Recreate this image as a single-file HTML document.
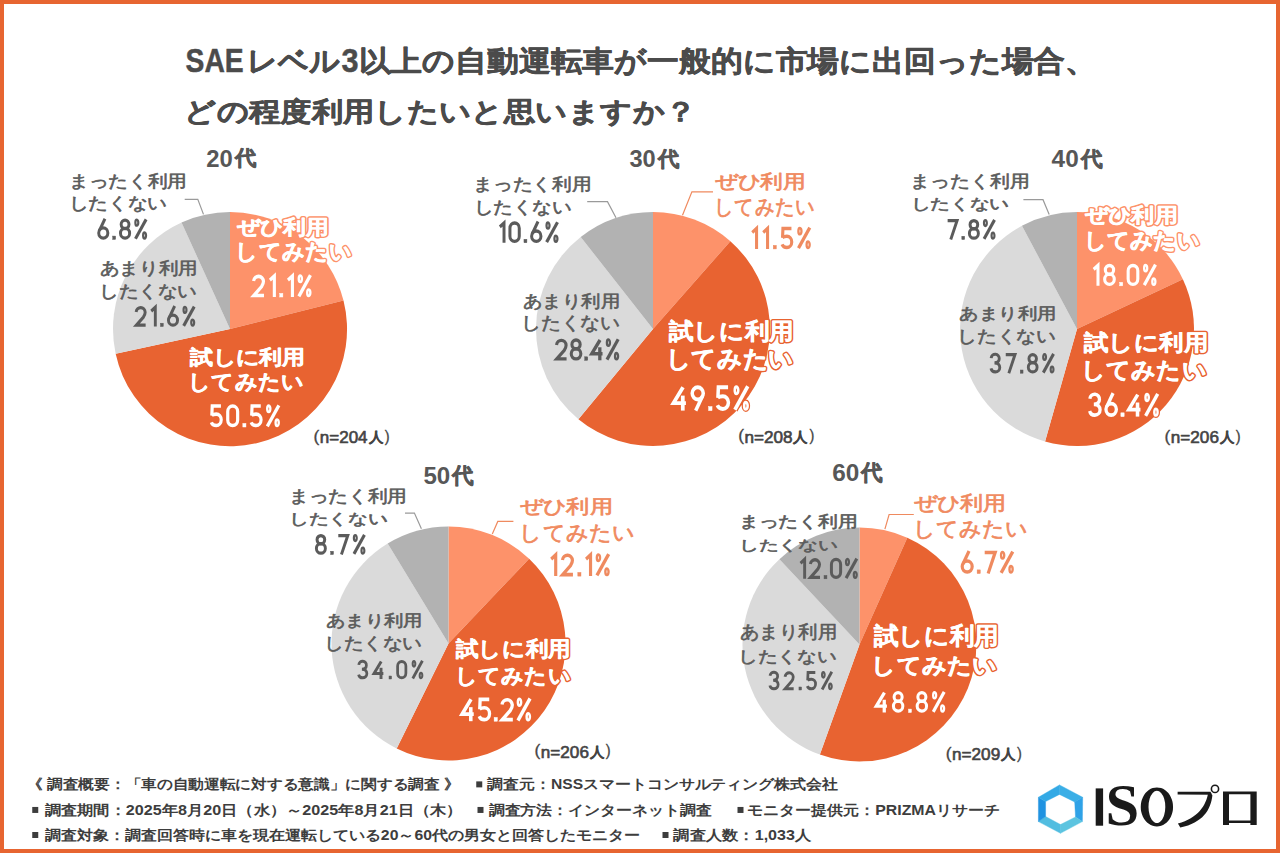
<!DOCTYPE html>
<html lang="ja"><head><meta charset="utf-8"><title>chart</title>
<style>html,body{margin:0;padding:0;background:#fff;}
svg{display:block;font-family:"Liberation Sans",sans-serif;}</style></head>
<body><svg width="1280" height="853" viewBox="0 0 1280 853">
<rect x="0" y="0" width="1280" height="853" fill="#E76531"/>
<rect x="4" y="4" width="1272" height="845" fill="#ffffff"/>
<path d="M230,329 L230.00,212.00 A117,117 0 0 1 343.50,300.62 Z" fill="#FD926A"/><path d="M230,329 L343.50,300.62 A117,117 0 1 1 115.66,353.80 Z" fill="#E86331"/><path d="M230,329 L115.66,353.80 A117,117 0 0 1 181.52,222.52 Z" fill="#DADADA"/><path d="M230,329 L181.52,222.52 A117,117 0 0 1 230.00,212.00 Z" fill="#B2B2B2"/><path d="M653,329 L653.00,212.00 A117,117 0 0 1 730.37,241.24 Z" fill="#FD926A"/><path d="M653,329 L730.37,241.24 A117,117 0 0 1 578.42,419.15 Z" fill="#E86331"/><path d="M653,329 L578.42,419.15 A117,117 0 0 1 580.71,237.00 Z" fill="#DADADA"/><path d="M653,329 L580.71,237.00 A117,117 0 0 1 653.00,212.00 Z" fill="#B2B2B2"/><path d="M1077,329 L1077.00,212.00 A117,117 0 0 1 1182.86,279.18 Z" fill="#FD926A"/><path d="M1077,329 L1182.86,279.18 A117,117 0 0 1 1045.06,441.56 Z" fill="#E86331"/><path d="M1077,329 L1045.06,441.56 A117,117 0 0 1 1021.93,225.77 Z" fill="#DADADA"/><path d="M1077,329 L1021.93,225.77 A117,117 0 0 1 1077.00,212.00 Z" fill="#B2B2B2"/><path d="M448.5,643.5 L448.50,526.50 A117,117 0 0 1 529.13,558.72 Z" fill="#FD926A"/><path d="M448.5,643.5 L529.13,558.72 A117,117 0 0 1 396.70,748.41 Z" fill="#E86331"/><path d="M448.5,643.5 L396.70,748.41 A117,117 0 0 1 387.68,543.55 Z" fill="#DADADA"/><path d="M448.5,643.5 L387.68,543.55 A117,117 0 0 1 448.50,526.50 Z" fill="#B2B2B2"/><path d="M859.5,644.5 L859.50,527.50 A117,117 0 0 1 907.31,537.72 Z" fill="#FD926A"/><path d="M859.5,644.5 L907.31,537.72 A117,117 0 0 1 819.87,754.58 Z" fill="#E86331"/><path d="M859.5,644.5 L819.87,754.58 A117,117 0 0 1 779.41,559.21 Z" fill="#DADADA"/><path d="M859.5,644.5 L779.41,559.21 A117,117 0 0 1 859.50,527.50 Z" fill="#B2B2B2"/><path d="M184.7,199.4 L197.8,199.4 L203.5,214.4" fill="none" stroke="#9a9a9a" stroke-width="1.2"/><path d="M587.2,201.6 L607.5,201.6 L616.0,217.7" fill="none" stroke="#9a9a9a" stroke-width="1.2"/><path d="M713.0,191.9 L691.9,191.9 L682.5,215.3" fill="none" stroke="#EF8A5F" stroke-width="1.2"/><path d="M1023.4,199.7 L1043.0,199.7 L1049.2,214.5" fill="none" stroke="#9a9a9a" stroke-width="1.2"/><path d="M405.0,513.1 L414.4,513.1 L421.4,528.8" fill="none" stroke="#9a9a9a" stroke-width="1.2"/><path d="M513.4,521.4 L497.8,521.4 L492.3,533.9" fill="none" stroke="#EF8A5F" stroke-width="1.2"/><path d="M913.8,514.5 L889.1,514.5 L884.9,529.2" fill="none" stroke="#EF8A5F" stroke-width="1.2"/><text x="185.55" y="72.26" font-size="33.80" font-weight="700" fill="#4b4b4b" textLength="58.07" lengthAdjust="spacingAndGlyphs" stroke="#4b4b4b" stroke-width="0.5" stroke-linejoin="round" paint-order="stroke">SAE</text><text x="247.24" y="70.84" font-size="29.13" font-weight="700" fill="#4b4b4b" textLength="93.27" lengthAdjust="spacingAndGlyphs" stroke="#4b4b4b" stroke-width="0.5" stroke-linejoin="round" paint-order="stroke">レベル</text><text x="341.59" y="72.26" font-size="33.80" font-weight="700" fill="#4b4b4b" textLength="17.02" lengthAdjust="spacingAndGlyphs" stroke="#4b4b4b" stroke-width="0.5" stroke-linejoin="round" paint-order="stroke">3</text><text x="358.56" y="70.84" font-size="29.13" font-weight="700" fill="#4b4b4b" textLength="738.48" lengthAdjust="spacingAndGlyphs" stroke="#4b4b4b" stroke-width="0.5" stroke-linejoin="round" paint-order="stroke">以上の自動運転車が一般的に市場に出回った場合、</text><text x="184.07" y="120.58" font-size="27.10" font-weight="700" fill="#4b4b4b" textLength="512.23" lengthAdjust="spacingAndGlyphs" stroke="#4b4b4b" stroke-width="0.5" stroke-linejoin="round" paint-order="stroke">どの程度利用したいと思いますか？</text><text x="206.18" y="166.56" font-size="23.94" font-weight="700" fill="#575757" textLength="26.53" lengthAdjust="spacingAndGlyphs">20</text><text x="234.64" y="165.43" font-size="21.15" font-weight="700" fill="#575757" textLength="21.39" lengthAdjust="spacingAndGlyphs" stroke="#575757" stroke-width="0.5" stroke-linejoin="round" paint-order="stroke">代</text><text x="68.80" y="187.35" font-size="16.58" font-weight="400" fill="#5b5b5b" textLength="118.34" lengthAdjust="spacingAndGlyphs" stroke="#5b5b5b" stroke-width="0.6" stroke-linejoin="round" paint-order="stroke">まったく利用</text><text x="68.76" y="209.45" font-size="16.96" font-weight="400" fill="#5b5b5b" textLength="98.18" lengthAdjust="spacingAndGlyphs" stroke="#5b5b5b" stroke-width="0.6" stroke-linejoin="round" paint-order="stroke">したくない</text><g fill="none" stroke="#5b5b5b" stroke-linejoin="miter" stroke-miterlimit="3" stroke-linecap="butt"><g transform="translate(97.50,218.75) scale(0.1865,0.2065)"><path d="M6.5,69 A24.5,24.5 0 0 1 55.5,69 A24.5,24.5 0 0 1 6.5,69 Z" stroke-width="15.92"/><path d="M10.5,57 L40,0" stroke-width="15.92"/></g><g transform="translate(112.73,218.75) scale(0.1807,0.2065)"><rect x="0" y="84" width="16" height="16" fill="#5b5b5b" stroke-width="2.42"/></g><g transform="translate(119.28,218.75) scale(0.1865,0.2065)"><path d="M10,27 A21,20.5 0 0 1 52,27 A21,20.5 0 0 1 10,27 Z" stroke-width="15.92"/><path d="M6.5,70 A24.5,23.5 0 0 1 55.5,70 A24.5,23.5 0 0 1 6.5,70 Z" stroke-width="15.92"/></g><g transform="translate(134.51,218.75) scale(0.1936,0.2065)"><path d="M60,3 L5,97" stroke-width="15.92"/><path d="M4.5,19 A7.5,14.5 0 0 1 19.5,19 A7.5,14.5 0 0 1 4.5,19 Z" stroke-width="11.42"/><path d="M44.5,81 A7.5,14.5 0 0 1 59.5,81 A7.5,14.5 0 0 1 44.5,81 Z" stroke-width="11.42"/></g></g><text x="237.20" y="233.92" font-size="19.90" font-weight="700" fill="#FD926A" textLength="91.36" lengthAdjust="spacingAndGlyphs" stroke="#FD926A" stroke-width="3.5" stroke-linejoin="round">ぜひ利用</text><text x="237.20" y="233.92" font-size="19.90" font-weight="700" fill="#ffffff" textLength="91.36" lengthAdjust="spacingAndGlyphs" stroke="#ffffff" stroke-width="0.5" stroke-linejoin="round">ぜひ利用</text><text x="235.44" y="258.84" font-size="21.65" font-weight="700" fill="#FD926A" textLength="116.41" lengthAdjust="spacingAndGlyphs" stroke="#FD926A" stroke-width="3.5" stroke-linejoin="round">してみたい</text><text x="235.44" y="258.84" font-size="21.65" font-weight="700" fill="#ffffff" textLength="116.41" lengthAdjust="spacingAndGlyphs" stroke="#ffffff" stroke-width="0.5" stroke-linejoin="round">してみたい</text><g fill="none" stroke="#FD926A" stroke-linejoin="miter" stroke-miterlimit="3" stroke-linecap="butt"><g transform="translate(252.20,274.50) scale(0.2032,0.2250)"><path d="M6.8,29 A24.5,24 0 0 1 55.5,30.5 C55.5,40 51.5,47 46,54 L8,93.5 L58,93.5" stroke-width="26.83"/></g><g transform="translate(268.89,274.50) scale(0.1985,0.2250)"><path d="M5,25 L27.5,6.5 L27.5,100" stroke-width="26.83"/></g><g transform="translate(279.73,274.50) scale(0.1969,0.2250)"><rect x="0" y="84" width="16" height="16" fill="#FD926A" stroke-width="13.33"/></g><g transform="translate(286.96,274.50) scale(0.1985,0.2250)"><path d="M5,25 L27.5,6.5 L27.5,100" stroke-width="26.83"/></g><g transform="translate(297.80,274.50) scale(0.2109,0.2250)"><path d="M60,3 L5,97" stroke-width="26.83"/><path d="M4.5,19 A7.5,14.5 0 0 1 19.5,19 A7.5,14.5 0 0 1 4.5,19 Z" stroke-width="22.33"/><path d="M44.5,81 A7.5,14.5 0 0 1 59.5,81 A7.5,14.5 0 0 1 44.5,81 Z" stroke-width="22.33"/></g></g><g fill="none" stroke="#ffffff" stroke-linejoin="miter" stroke-miterlimit="3" stroke-linecap="butt"><g transform="translate(252.20,274.50) scale(0.2032,0.2250)"><path d="M6.8,29 A24.5,24 0 0 1 55.5,30.5 C55.5,40 51.5,47 46,54 L8,93.5 L58,93.5" stroke-width="15.72"/></g><g transform="translate(268.89,274.50) scale(0.1985,0.2250)"><path d="M5,25 L27.5,6.5 L27.5,100" stroke-width="15.72"/></g><g transform="translate(279.73,274.50) scale(0.1969,0.2250)"><rect x="0" y="84" width="16" height="16" fill="#ffffff" stroke-width="2.22"/></g><g transform="translate(286.96,274.50) scale(0.1985,0.2250)"><path d="M5,25 L27.5,6.5 L27.5,100" stroke-width="15.72"/></g><g transform="translate(297.80,274.50) scale(0.2109,0.2250)"><path d="M60,3 L5,97" stroke-width="15.72"/><path d="M4.5,19 A7.5,14.5 0 0 1 19.5,19 A7.5,14.5 0 0 1 4.5,19 Z" stroke-width="11.22"/><path d="M44.5,81 A7.5,14.5 0 0 1 59.5,81 A7.5,14.5 0 0 1 44.5,81 Z" stroke-width="11.22"/></g></g><text x="99.94" y="274.27" font-size="17.40" font-weight="400" fill="#5b5b5b" textLength="97.68" lengthAdjust="spacingAndGlyphs" stroke="#5b5b5b" stroke-width="0.6" stroke-linejoin="round" paint-order="stroke">あまり利用</text><text x="98.98" y="296.51" font-size="17.17" font-weight="400" fill="#5b5b5b" textLength="97.86" lengthAdjust="spacingAndGlyphs" stroke="#5b5b5b" stroke-width="0.6" stroke-linejoin="round" paint-order="stroke">したくない</text><g fill="none" stroke="#5b5b5b" stroke-linejoin="miter" stroke-miterlimit="3" stroke-linecap="butt"><g transform="translate(134.90,306.00) scale(0.1852,0.2050)"><path d="M6.8,29 A24.5,24 0 0 1 55.5,30.5 C55.5,40 51.5,47 46,54 L8,93.5 L58,93.5" stroke-width="15.94"/></g><g transform="translate(150.34,306.00) scale(0.1809,0.2050)"><path d="M5,25 L27.5,6.5 L27.5,100" stroke-width="15.94"/></g><g transform="translate(160.44,306.00) scale(0.1794,0.2050)"><rect x="0" y="84" width="16" height="16" fill="#5b5b5b" stroke-width="2.44"/></g><g transform="translate(167.26,306.00) scale(0.1852,0.2050)"><path d="M6.5,69 A24.5,24.5 0 0 1 55.5,69 A24.5,24.5 0 0 1 6.5,69 Z" stroke-width="15.94"/><path d="M10.5,57 L40,0" stroke-width="15.94"/></g><g transform="translate(182.70,306.00) scale(0.1922,0.2050)"><path d="M60,3 L5,97" stroke-width="15.94"/><path d="M4.5,19 A7.5,14.5 0 0 1 19.5,19 A7.5,14.5 0 0 1 4.5,19 Z" stroke-width="11.44"/><path d="M44.5,81 A7.5,14.5 0 0 1 59.5,81 A7.5,14.5 0 0 1 44.5,81 Z" stroke-width="11.44"/></g></g><text x="190.30" y="363.54" font-size="20.40" font-weight="700" fill="#E86331" textLength="114.88" lengthAdjust="spacingAndGlyphs" stroke="#E86331" stroke-width="3.5" stroke-linejoin="round">試しに利用</text><text x="190.30" y="363.54" font-size="20.40" font-weight="700" fill="#ffffff" textLength="114.88" lengthAdjust="spacingAndGlyphs" stroke="#ffffff" stroke-width="0.5" stroke-linejoin="round">試しに利用</text><text x="188.36" y="389.28" font-size="20.77" font-weight="700" fill="#E86331" textLength="115.67" lengthAdjust="spacingAndGlyphs" stroke="#E86331" stroke-width="3.5" stroke-linejoin="round">してみたい</text><text x="188.36" y="389.28" font-size="20.77" font-weight="700" fill="#ffffff" textLength="115.67" lengthAdjust="spacingAndGlyphs" stroke="#ffffff" stroke-width="0.5" stroke-linejoin="round">してみたい</text><g fill="none" stroke="#E86331" stroke-linejoin="miter" stroke-miterlimit="3" stroke-linecap="butt"><g transform="translate(210.00,404.60) scale(0.2023,0.2240)"><path d="M54,6.5 L11,6.5 L9,49" stroke-width="26.89"/><path d="M8.5,48 C13,44.5 21,42.5 31,42.5 A24.5,25.5 0 0 1 55.5,68 A24.5,25.5 0 0 1 31,93.5 C19,93.5 10,87.5 6.5,79" stroke-width="26.89"/></g><g transform="translate(226.42,404.60) scale(0.2023,0.2240)"><path d="M6.5,31 A24.5,24.5 0 0 1 55.5,31 L55.5,69 A24.5,24.5 0 0 1 6.5,69 Z" stroke-width="26.89"/></g><g transform="translate(242.83,404.60) scale(0.1960,0.2240)"><rect x="0" y="84" width="16" height="16" fill="#E86331" stroke-width="13.39"/></g><g transform="translate(249.84,404.60) scale(0.2023,0.2240)"><path d="M54,6.5 L11,6.5 L9,49" stroke-width="26.89"/><path d="M8.5,48 C13,44.5 21,42.5 31,42.5 A24.5,25.5 0 0 1 55.5,68 A24.5,25.5 0 0 1 31,93.5 C19,93.5 10,87.5 6.5,79" stroke-width="26.89"/></g><g transform="translate(266.26,404.60) scale(0.2100,0.2240)"><path d="M60,3 L5,97" stroke-width="26.89"/><path d="M4.5,19 A7.5,14.5 0 0 1 19.5,19 A7.5,14.5 0 0 1 4.5,19 Z" stroke-width="22.39"/><path d="M44.5,81 A7.5,14.5 0 0 1 59.5,81 A7.5,14.5 0 0 1 44.5,81 Z" stroke-width="22.39"/></g></g><g fill="none" stroke="#ffffff" stroke-linejoin="miter" stroke-miterlimit="3" stroke-linecap="butt"><g transform="translate(210.00,404.60) scale(0.2023,0.2240)"><path d="M54,6.5 L11,6.5 L9,49" stroke-width="15.73"/><path d="M8.5,48 C13,44.5 21,42.5 31,42.5 A24.5,25.5 0 0 1 55.5,68 A24.5,25.5 0 0 1 31,93.5 C19,93.5 10,87.5 6.5,79" stroke-width="15.73"/></g><g transform="translate(226.42,404.60) scale(0.2023,0.2240)"><path d="M6.5,31 A24.5,24.5 0 0 1 55.5,31 L55.5,69 A24.5,24.5 0 0 1 6.5,69 Z" stroke-width="15.73"/></g><g transform="translate(242.83,404.60) scale(0.1960,0.2240)"><rect x="0" y="84" width="16" height="16" fill="#ffffff" stroke-width="2.23"/></g><g transform="translate(249.84,404.60) scale(0.2023,0.2240)"><path d="M54,6.5 L11,6.5 L9,49" stroke-width="15.73"/><path d="M8.5,48 C13,44.5 21,42.5 31,42.5 A24.5,25.5 0 0 1 55.5,68 A24.5,25.5 0 0 1 31,93.5 C19,93.5 10,87.5 6.5,79" stroke-width="15.73"/></g><g transform="translate(266.26,404.60) scale(0.2100,0.2240)"><path d="M60,3 L5,97" stroke-width="15.73"/><path d="M4.5,19 A7.5,14.5 0 0 1 19.5,19 A7.5,14.5 0 0 1 4.5,19 Z" stroke-width="11.23"/><path d="M44.5,81 A7.5,14.5 0 0 1 59.5,81 A7.5,14.5 0 0 1 44.5,81 Z" stroke-width="11.23"/></g></g><text x="313.46" y="441.67" font-size="15.85" font-weight="400" fill="#444444" textLength="5.77" lengthAdjust="spacingAndGlyphs" stroke="#444444" stroke-width="0.3" stroke-linejoin="round" paint-order="stroke">(</text><text x="319.81" y="443.44" font-size="16.06" font-weight="400" fill="#444444" textLength="47.78" lengthAdjust="spacingAndGlyphs" stroke="#444444" stroke-width="0.6" stroke-linejoin="round" paint-order="stroke">n=204</text><text x="368.64" y="442.28" font-size="13.67" font-weight="700" fill="#444444" textLength="14.50" lengthAdjust="spacingAndGlyphs" stroke="#444444" stroke-width="0.3" stroke-linejoin="round" paint-order="stroke">人</text><text x="384.85" y="441.67" font-size="15.85" font-weight="400" fill="#444444" textLength="4.87" lengthAdjust="spacingAndGlyphs" stroke="#444444" stroke-width="0.3" stroke-linejoin="round" paint-order="stroke">)</text><text x="629.43" y="167.05" font-size="24.65" font-weight="700" fill="#575757" textLength="26.27" lengthAdjust="spacingAndGlyphs">30</text><text x="657.64" y="165.68" font-size="21.46" font-weight="700" fill="#575757" textLength="21.39" lengthAdjust="spacingAndGlyphs" stroke="#575757" stroke-width="0.5" stroke-linejoin="round" paint-order="stroke">代</text><text x="473.30" y="190.01" font-size="16.79" font-weight="400" fill="#5b5b5b" textLength="118.34" lengthAdjust="spacingAndGlyphs" stroke="#5b5b5b" stroke-width="0.6" stroke-linejoin="round" paint-order="stroke">まったく利用</text><text x="473.58" y="212.97" font-size="16.85" font-weight="400" fill="#5b5b5b" textLength="97.76" lengthAdjust="spacingAndGlyphs" stroke="#5b5b5b" stroke-width="0.6" stroke-linejoin="round" paint-order="stroke">したくない</text><g fill="none" stroke="#5b5b5b" stroke-linejoin="miter" stroke-miterlimit="3" stroke-linecap="butt"><g transform="translate(498.90,221.60) scale(0.1862,0.2110)"><path d="M5,25 L27.5,6.5 L27.5,100" stroke-width="15.87"/></g><g transform="translate(508.69,221.60) scale(0.1906,0.2110)"><path d="M6.5,31 A24.5,24.5 0 0 1 55.5,31 L55.5,69 A24.5,24.5 0 0 1 6.5,69 Z" stroke-width="15.87"/></g><g transform="translate(523.96,221.60) scale(0.1846,0.2110)"><rect x="0" y="84" width="16" height="16" fill="#5b5b5b" stroke-width="2.37"/></g><g transform="translate(530.37,221.60) scale(0.1906,0.2110)"><path d="M6.5,69 A24.5,24.5 0 0 1 55.5,69 A24.5,24.5 0 0 1 6.5,69 Z" stroke-width="15.87"/><path d="M10.5,57 L40,0" stroke-width="15.87"/></g><g transform="translate(545.64,221.60) scale(0.1978,0.2110)"><path d="M60,3 L5,97" stroke-width="15.87"/><path d="M4.5,19 A7.5,14.5 0 0 1 19.5,19 A7.5,14.5 0 0 1 4.5,19 Z" stroke-width="11.37"/><path d="M44.5,81 A7.5,14.5 0 0 1 59.5,81 A7.5,14.5 0 0 1 44.5,81 Z" stroke-width="11.37"/></g></g><text x="714.85" y="188.27" font-size="19.48" font-weight="400" fill="#F08A5F" textLength="91.24" lengthAdjust="spacingAndGlyphs" stroke="#F08A5F" stroke-width="0.7" stroke-linejoin="round" paint-order="stroke">ぜひ利用</text><text x="714.01" y="213.89" font-size="21.48" font-weight="400" fill="#F08A5F" textLength="101.68" lengthAdjust="spacingAndGlyphs" stroke="#F08A5F" stroke-width="0.7" stroke-linejoin="round" paint-order="stroke">してみたい</text><g fill="none" stroke="#EF8A5F" stroke-linejoin="miter" stroke-miterlimit="3" stroke-linecap="butt"><g transform="translate(751.25,227.00) scale(0.1932,0.2190)"><path d="M5,25 L27.5,6.5 L27.5,100" stroke-width="15.78"/></g><g transform="translate(762.25,227.00) scale(0.1932,0.2190)"><path d="M5,25 L27.5,6.5 L27.5,100" stroke-width="15.78"/></g><g transform="translate(773.26,227.00) scale(0.1916,0.2190)"><rect x="0" y="84" width="16" height="16" fill="#EF8A5F" stroke-width="2.28"/></g><g transform="translate(780.76,227.00) scale(0.1978,0.2190)"><path d="M54,6.5 L11,6.5 L9,49" stroke-width="15.78"/><path d="M8.5,48 C13,44.5 21,42.5 31,42.5 A24.5,25.5 0 0 1 55.5,68 A24.5,25.5 0 0 1 31,93.5 C19,93.5 10,87.5 6.5,79" stroke-width="15.78"/></g><g transform="translate(797.46,227.00) scale(0.2053,0.2190)"><path d="M60,3 L5,97" stroke-width="15.78"/><path d="M4.5,19 A7.5,14.5 0 0 1 19.5,19 A7.5,14.5 0 0 1 4.5,19 Z" stroke-width="11.28"/><path d="M44.5,81 A7.5,14.5 0 0 1 59.5,81 A7.5,14.5 0 0 1 44.5,81 Z" stroke-width="11.28"/></g></g><text x="522.95" y="306.84" font-size="17.00" font-weight="400" fill="#5b5b5b" textLength="97.06" lengthAdjust="spacingAndGlyphs" stroke="#5b5b5b" stroke-width="0.6" stroke-linejoin="round" paint-order="stroke">あまり利用</text><text x="521.04" y="329.47" font-size="18.48" font-weight="400" fill="#5b5b5b" textLength="98.82" lengthAdjust="spacingAndGlyphs" stroke="#5b5b5b" stroke-width="0.6" stroke-linejoin="round" paint-order="stroke">したくない</text><g fill="none" stroke="#5b5b5b" stroke-linejoin="miter" stroke-miterlimit="3" stroke-linecap="butt"><g transform="translate(555.20,338.60) scale(0.1960,0.2170)"><path d="M6.8,29 A24.5,24 0 0 1 55.5,30.5 C55.5,40 51.5,47 46,54 L8,93.5 L58,93.5" stroke-width="15.80"/></g><g transform="translate(569.96,338.60) scale(0.1960,0.2170)"><path d="M10,27 A21,20.5 0 0 1 52,27 A21,20.5 0 0 1 10,27 Z" stroke-width="15.80"/><path d="M6.5,70 A24.5,23.5 0 0 1 55.5,70 A24.5,23.5 0 0 1 6.5,70 Z" stroke-width="15.80"/></g><g transform="translate(584.71,338.60) scale(0.1899,0.2170)"><rect x="0" y="84" width="16" height="16" fill="#5b5b5b" stroke-width="2.30"/></g><g transform="translate(590.36,338.60) scale(0.2100,0.2170)"><path d="M46,6.5 L6.5,70 L58,70" stroke-width="15.80"/><path d="M45,40 L45,100" stroke-width="15.80"/></g><g transform="translate(605.98,338.60) scale(0.2034,0.2170)"><path d="M60,3 L5,97" stroke-width="15.80"/><path d="M4.5,19 A7.5,14.5 0 0 1 19.5,19 A7.5,14.5 0 0 1 4.5,19 Z" stroke-width="11.30"/><path d="M44.5,81 A7.5,14.5 0 0 1 59.5,81 A7.5,14.5 0 0 1 44.5,81 Z" stroke-width="11.30"/></g></g><text x="668.90" y="339.17" font-size="22.67" font-weight="700" fill="#E86331" textLength="125.08" lengthAdjust="spacingAndGlyphs" stroke="#E86331" stroke-width="3.5" stroke-linejoin="round">試しに利用</text><text x="668.90" y="339.17" font-size="22.67" font-weight="700" fill="#ffffff" textLength="125.08" lengthAdjust="spacingAndGlyphs" stroke="#ffffff" stroke-width="0.5" stroke-linejoin="round">試しに利用</text><text x="665.89" y="366.85" font-size="24.07" font-weight="700" fill="#E86331" textLength="127.87" lengthAdjust="spacingAndGlyphs" stroke="#E86331" stroke-width="3.5" stroke-linejoin="round">してみたい</text><text x="665.89" y="366.85" font-size="24.07" font-weight="700" fill="#ffffff" textLength="127.87" lengthAdjust="spacingAndGlyphs" stroke="#ffffff" stroke-width="0.5" stroke-linejoin="round">してみたい</text><g fill="none" stroke="#E86331" stroke-linejoin="miter" stroke-miterlimit="3" stroke-linecap="butt"><g transform="translate(671.90,385.60) scale(0.2419,0.2500)"><path d="M46,6.5 L6.5,70 L58,70" stroke-width="25.50"/><path d="M45,40 L45,100" stroke-width="25.50"/></g><g transform="translate(690.73,385.60) scale(0.2258,0.2500)"><path d="M6.5,31 A24.5,24.5 0 0 1 55.5,31 A24.5,24.5 0 0 1 6.5,31 Z" stroke-width="25.50"/><path d="M51.5,43 L22,100" stroke-width="25.50"/></g><g transform="translate(708.55,385.60) scale(0.2188,0.2500)"><rect x="0" y="84" width="16" height="16" fill="#E86331" stroke-width="12.00"/></g><g transform="translate(715.88,385.60) scale(0.2258,0.2500)"><path d="M54,6.5 L11,6.5 L9,49" stroke-width="25.50"/><path d="M8.5,48 C13,44.5 21,42.5 31,42.5 A24.5,25.5 0 0 1 55.5,68 A24.5,25.5 0 0 1 31,93.5 C19,93.5 10,87.5 6.5,79" stroke-width="25.50"/></g><g transform="translate(733.70,385.60) scale(0.2344,0.2500)"><path d="M60,3 L5,97" stroke-width="25.50"/><path d="M4.5,19 A7.5,14.5 0 0 1 19.5,19 A7.5,14.5 0 0 1 4.5,19 Z" stroke-width="21.00"/><path d="M44.5,81 A7.5,14.5 0 0 1 59.5,81 A7.5,14.5 0 0 1 44.5,81 Z" stroke-width="21.00"/></g></g><g fill="none" stroke="#ffffff" stroke-linejoin="miter" stroke-miterlimit="3" stroke-linecap="butt"><g transform="translate(671.90,385.60) scale(0.2419,0.2500)"><path d="M46,6.5 L6.5,70 L58,70" stroke-width="15.50"/><path d="M45,40 L45,100" stroke-width="15.50"/></g><g transform="translate(690.73,385.60) scale(0.2258,0.2500)"><path d="M6.5,31 A24.5,24.5 0 0 1 55.5,31 A24.5,24.5 0 0 1 6.5,31 Z" stroke-width="15.50"/><path d="M51.5,43 L22,100" stroke-width="15.50"/></g><g transform="translate(708.55,385.60) scale(0.2188,0.2500)"><rect x="0" y="84" width="16" height="16" fill="#ffffff" stroke-width="2.00"/></g><g transform="translate(715.88,385.60) scale(0.2258,0.2500)"><path d="M54,6.5 L11,6.5 L9,49" stroke-width="15.50"/><path d="M8.5,48 C13,44.5 21,42.5 31,42.5 A24.5,25.5 0 0 1 55.5,68 A24.5,25.5 0 0 1 31,93.5 C19,93.5 10,87.5 6.5,79" stroke-width="15.50"/></g><g transform="translate(733.70,385.60) scale(0.2344,0.2500)"><path d="M60,3 L5,97" stroke-width="15.50"/><path d="M4.5,19 A7.5,14.5 0 0 1 19.5,19 A7.5,14.5 0 0 1 4.5,19 Z" stroke-width="11.00"/><path d="M44.5,81 A7.5,14.5 0 0 1 59.5,81 A7.5,14.5 0 0 1 44.5,81 Z" stroke-width="11.00"/></g></g><text x="738.16" y="441.47" font-size="15.85" font-weight="400" fill="#444444" textLength="5.77" lengthAdjust="spacingAndGlyphs" stroke="#444444" stroke-width="0.3" stroke-linejoin="round" paint-order="stroke">(</text><text x="744.50" y="443.24" font-size="16.06" font-weight="400" fill="#444444" textLength="48.13" lengthAdjust="spacingAndGlyphs" stroke="#444444" stroke-width="0.6" stroke-linejoin="round" paint-order="stroke">n=208</text><text x="793.35" y="442.08" font-size="13.67" font-weight="700" fill="#444444" textLength="14.50" lengthAdjust="spacingAndGlyphs" stroke="#444444" stroke-width="0.3" stroke-linejoin="round" paint-order="stroke">人</text><text x="809.55" y="441.47" font-size="15.85" font-weight="400" fill="#444444" textLength="4.87" lengthAdjust="spacingAndGlyphs" stroke="#444444" stroke-width="0.3" stroke-linejoin="round" paint-order="stroke">)</text><text x="1051.61" y="166.56" font-size="23.94" font-weight="700" fill="#575757" textLength="27.12" lengthAdjust="spacingAndGlyphs">40</text><text x="1080.65" y="165.68" font-size="21.46" font-weight="700" fill="#575757" textLength="21.68" lengthAdjust="spacingAndGlyphs" stroke="#575757" stroke-width="0.5" stroke-linejoin="round" paint-order="stroke">代</text><text x="910.28" y="186.82" font-size="16.73" font-weight="400" fill="#5b5b5b" textLength="119.18" lengthAdjust="spacingAndGlyphs" stroke="#5b5b5b" stroke-width="0.6" stroke-linejoin="round" paint-order="stroke">まったく利用</text><text x="910.55" y="209.44" font-size="15.33" font-weight="400" fill="#5b5b5b" textLength="98.61" lengthAdjust="spacingAndGlyphs" stroke="#5b5b5b" stroke-width="0.6" stroke-linejoin="round" paint-order="stroke">したくない</text><g fill="none" stroke="#5b5b5b" stroke-linejoin="miter" stroke-miterlimit="3" stroke-linecap="butt"><g transform="translate(946.90,219.20) scale(0.1834,0.2030)"><path d="M4,6.5 L55.5,6.5 L21,100" stroke-width="15.96"/></g><g transform="translate(961.82,219.20) scale(0.1776,0.2030)"><rect x="0" y="84" width="16" height="16" fill="#5b5b5b" stroke-width="2.46"/></g><g transform="translate(968.20,219.20) scale(0.1834,0.2030)"><path d="M10,27 A21,20.5 0 0 1 52,27 A21,20.5 0 0 1 10,27 Z" stroke-width="15.96"/><path d="M6.5,70 A24.5,23.5 0 0 1 55.5,70 A24.5,23.5 0 0 1 6.5,70 Z" stroke-width="15.96"/></g><g transform="translate(983.12,219.20) scale(0.1903,0.2030)"><path d="M60,3 L5,97" stroke-width="15.96"/><path d="M4.5,19 A7.5,14.5 0 0 1 19.5,19 A7.5,14.5 0 0 1 4.5,19 Z" stroke-width="11.46"/><path d="M44.5,81 A7.5,14.5 0 0 1 59.5,81 A7.5,14.5 0 0 1 44.5,81 Z" stroke-width="11.46"/></g></g><text x="1085.40" y="221.88" font-size="20.10" font-weight="700" fill="#FD926A" textLength="92.18" lengthAdjust="spacingAndGlyphs" stroke="#FD926A" stroke-width="3.5" stroke-linejoin="round">ぜひ利用</text><text x="1085.40" y="221.88" font-size="20.10" font-weight="700" fill="#ffffff" textLength="92.18" lengthAdjust="spacingAndGlyphs" stroke="#ffffff" stroke-width="0.5" stroke-linejoin="round">ぜひ利用</text><text x="1083.53" y="247.78" font-size="21.98" font-weight="700" fill="#FD926A" textLength="116.62" lengthAdjust="spacingAndGlyphs" stroke="#FD926A" stroke-width="3.5" stroke-linejoin="round">してみたい</text><text x="1083.53" y="247.78" font-size="21.98" font-weight="700" fill="#ffffff" textLength="116.62" lengthAdjust="spacingAndGlyphs" stroke="#ffffff" stroke-width="0.5" stroke-linejoin="round">してみたい</text><g fill="none" stroke="#FD926A" stroke-linejoin="miter" stroke-miterlimit="3" stroke-linecap="butt"><g transform="translate(1092.70,264.00) scale(0.1924,0.2180)"><path d="M5,25 L27.5,6.5 L27.5,100" stroke-width="27.26"/></g><g transform="translate(1103.37,264.00) scale(0.1969,0.2180)"><path d="M10,27 A21,20.5 0 0 1 52,27 A21,20.5 0 0 1 10,27 Z" stroke-width="27.26"/><path d="M6.5,70 A24.5,23.5 0 0 1 55.5,70 A24.5,23.5 0 0 1 6.5,70 Z" stroke-width="27.26"/></g><g transform="translate(1119.70,264.00) scale(0.1908,0.2180)"><rect x="0" y="84" width="16" height="16" fill="#FD926A" stroke-width="13.76"/></g><g transform="translate(1126.88,264.00) scale(0.1969,0.2180)"><path d="M6.5,31 A24.5,24.5 0 0 1 55.5,31 L55.5,69 A24.5,24.5 0 0 1 6.5,69 Z" stroke-width="27.26"/></g><g transform="translate(1143.22,264.00) scale(0.2044,0.2180)"><path d="M60,3 L5,97" stroke-width="27.26"/><path d="M4.5,19 A7.5,14.5 0 0 1 19.5,19 A7.5,14.5 0 0 1 4.5,19 Z" stroke-width="22.76"/><path d="M44.5,81 A7.5,14.5 0 0 1 59.5,81 A7.5,14.5 0 0 1 44.5,81 Z" stroke-width="22.76"/></g></g><g fill="none" stroke="#ffffff" stroke-linejoin="miter" stroke-miterlimit="3" stroke-linecap="butt"><g transform="translate(1092.70,264.00) scale(0.1924,0.2180)"><path d="M5,25 L27.5,6.5 L27.5,100" stroke-width="15.79"/></g><g transform="translate(1103.37,264.00) scale(0.1969,0.2180)"><path d="M10,27 A21,20.5 0 0 1 52,27 A21,20.5 0 0 1 10,27 Z" stroke-width="15.79"/><path d="M6.5,70 A24.5,23.5 0 0 1 55.5,70 A24.5,23.5 0 0 1 6.5,70 Z" stroke-width="15.79"/></g><g transform="translate(1119.70,264.00) scale(0.1908,0.2180)"><rect x="0" y="84" width="16" height="16" fill="#ffffff" stroke-width="2.29"/></g><g transform="translate(1126.88,264.00) scale(0.1969,0.2180)"><path d="M6.5,31 A24.5,24.5 0 0 1 55.5,31 L55.5,69 A24.5,24.5 0 0 1 6.5,69 Z" stroke-width="15.79"/></g><g transform="translate(1143.22,264.00) scale(0.2044,0.2180)"><path d="M60,3 L5,97" stroke-width="15.79"/><path d="M4.5,19 A7.5,14.5 0 0 1 19.5,19 A7.5,14.5 0 0 1 4.5,19 Z" stroke-width="11.29"/><path d="M44.5,81 A7.5,14.5 0 0 1 59.5,81 A7.5,14.5 0 0 1 44.5,81 Z" stroke-width="11.29"/></g></g><text x="959.35" y="318.65" font-size="16.40" font-weight="400" fill="#5b5b5b" textLength="97.06" lengthAdjust="spacingAndGlyphs" stroke="#5b5b5b" stroke-width="0.6" stroke-linejoin="round" paint-order="stroke">あまり利用</text><text x="957.46" y="342.11" font-size="16.63" font-weight="400" fill="#5b5b5b" textLength="98.18" lengthAdjust="spacingAndGlyphs" stroke="#5b5b5b" stroke-width="0.6" stroke-linejoin="round" paint-order="stroke">したくない</text><g fill="none" stroke="#5b5b5b" stroke-linejoin="miter" stroke-miterlimit="3" stroke-linecap="butt"><g transform="translate(989.80,353.30) scale(0.1797,0.1990)"><path d="M7.5,24 A22.5,20.8 0 0 1 52.5,27.3 A22.5,20.8 0 0 1 30,48.1 L26,48.1" stroke-width="16.01"/><path d="M30,48.1 A24.5,22.7 0 0 1 55.5,70.8 A24.5,22.7 0 0 1 31,93.5 A24.5,22.7 0 0 1 6.5,76" stroke-width="16.01"/></g><g transform="translate(1005.03,353.30) scale(0.1797,0.1990)"><path d="M4,6.5 L55.5,6.5 L21,100" stroke-width="16.01"/></g><g transform="translate(1020.26,353.30) scale(0.1741,0.1990)"><rect x="0" y="84" width="16" height="16" fill="#5b5b5b" stroke-width="2.51"/></g><g transform="translate(1027.13,353.30) scale(0.1797,0.1990)"><path d="M10,27 A21,20.5 0 0 1 52,27 A21,20.5 0 0 1 10,27 Z" stroke-width="16.01"/><path d="M6.5,70 A24.5,23.5 0 0 1 55.5,70 A24.5,23.5 0 0 1 6.5,70 Z" stroke-width="16.01"/></g><g transform="translate(1042.36,353.30) scale(0.1866,0.1990)"><path d="M60,3 L5,97" stroke-width="16.01"/><path d="M4.5,19 A7.5,14.5 0 0 1 19.5,19 A7.5,14.5 0 0 1 4.5,19 Z" stroke-width="11.51"/><path d="M44.5,81 A7.5,14.5 0 0 1 59.5,81 A7.5,14.5 0 0 1 44.5,81 Z" stroke-width="11.51"/></g></g><text x="1083.60" y="349.77" font-size="22.08" font-weight="700" fill="#E86331" textLength="124.37" lengthAdjust="spacingAndGlyphs" stroke="#E86331" stroke-width="3.5" stroke-linejoin="round">試しに利用</text><text x="1083.60" y="349.77" font-size="22.08" font-weight="700" fill="#ffffff" textLength="124.37" lengthAdjust="spacingAndGlyphs" stroke="#ffffff" stroke-width="0.5" stroke-linejoin="round">試しに利用</text><text x="1080.97" y="377.69" font-size="23.19" font-weight="700" fill="#E86331" textLength="125.76" lengthAdjust="spacingAndGlyphs" stroke="#E86331" stroke-width="3.5" stroke-linejoin="round">してみたい</text><text x="1080.97" y="377.69" font-size="23.19" font-weight="700" fill="#ffffff" textLength="125.76" lengthAdjust="spacingAndGlyphs" stroke="#ffffff" stroke-width="0.5" stroke-linejoin="round">してみたい</text><g fill="none" stroke="#E86331" stroke-linejoin="miter" stroke-miterlimit="3" stroke-linecap="butt"><g transform="translate(1088.30,393.10) scale(0.2123,0.2350)"><path d="M7.5,24 A22.5,20.8 0 0 1 52.5,27.3 A22.5,20.8 0 0 1 30,48.1 L26,48.1" stroke-width="26.27"/><path d="M30,48.1 A24.5,22.7 0 0 1 55.5,70.8 A24.5,22.7 0 0 1 31,93.5 A24.5,22.7 0 0 1 6.5,76" stroke-width="26.27"/></g><g transform="translate(1104.58,393.10) scale(0.2123,0.2350)"><path d="M6.5,69 A24.5,24.5 0 0 1 55.5,69 A24.5,24.5 0 0 1 6.5,69 Z" stroke-width="26.27"/><path d="M10.5,57 L40,0" stroke-width="26.27"/></g><g transform="translate(1120.87,393.10) scale(0.2056,0.2350)"><rect x="0" y="84" width="16" height="16" fill="#E86331" stroke-width="12.77"/></g><g transform="translate(1127.28,393.10) scale(0.2274,0.2350)"><path d="M46,6.5 L6.5,70 L58,70" stroke-width="26.27"/><path d="M45,40 L45,100" stroke-width="26.27"/></g><g transform="translate(1144.50,393.10) scale(0.2203,0.2350)"><path d="M60,3 L5,97" stroke-width="26.27"/><path d="M4.5,19 A7.5,14.5 0 0 1 19.5,19 A7.5,14.5 0 0 1 4.5,19 Z" stroke-width="21.77"/><path d="M44.5,81 A7.5,14.5 0 0 1 59.5,81 A7.5,14.5 0 0 1 44.5,81 Z" stroke-width="21.77"/></g></g><g fill="none" stroke="#ffffff" stroke-linejoin="miter" stroke-miterlimit="3" stroke-linecap="butt"><g transform="translate(1088.30,393.10) scale(0.2123,0.2350)"><path d="M7.5,24 A22.5,20.8 0 0 1 52.5,27.3 A22.5,20.8 0 0 1 30,48.1 L26,48.1" stroke-width="15.63"/><path d="M30,48.1 A24.5,22.7 0 0 1 55.5,70.8 A24.5,22.7 0 0 1 31,93.5 A24.5,22.7 0 0 1 6.5,76" stroke-width="15.63"/></g><g transform="translate(1104.58,393.10) scale(0.2123,0.2350)"><path d="M6.5,69 A24.5,24.5 0 0 1 55.5,69 A24.5,24.5 0 0 1 6.5,69 Z" stroke-width="15.63"/><path d="M10.5,57 L40,0" stroke-width="15.63"/></g><g transform="translate(1120.87,393.10) scale(0.2056,0.2350)"><rect x="0" y="84" width="16" height="16" fill="#ffffff" stroke-width="2.13"/></g><g transform="translate(1127.28,393.10) scale(0.2274,0.2350)"><path d="M46,6.5 L6.5,70 L58,70" stroke-width="15.63"/><path d="M45,40 L45,100" stroke-width="15.63"/></g><g transform="translate(1144.50,393.10) scale(0.2203,0.2350)"><path d="M60,3 L5,97" stroke-width="15.63"/><path d="M4.5,19 A7.5,14.5 0 0 1 19.5,19 A7.5,14.5 0 0 1 4.5,19 Z" stroke-width="11.13"/><path d="M44.5,81 A7.5,14.5 0 0 1 59.5,81 A7.5,14.5 0 0 1 44.5,81 Z" stroke-width="11.13"/></g></g><text x="1164.46" y="441.57" font-size="15.85" font-weight="400" fill="#444444" textLength="5.77" lengthAdjust="spacingAndGlyphs" stroke="#444444" stroke-width="0.3" stroke-linejoin="round" paint-order="stroke">(</text><text x="1170.80" y="443.34" font-size="16.06" font-weight="400" fill="#444444" textLength="48.13" lengthAdjust="spacingAndGlyphs" stroke="#444444" stroke-width="0.6" stroke-linejoin="round" paint-order="stroke">n=206</text><text x="1219.64" y="442.18" font-size="13.67" font-weight="700" fill="#444444" textLength="14.50" lengthAdjust="spacingAndGlyphs" stroke="#444444" stroke-width="0.3" stroke-linejoin="round" paint-order="stroke">人</text><text x="1235.85" y="441.57" font-size="15.85" font-weight="400" fill="#444444" textLength="4.87" lengthAdjust="spacingAndGlyphs" stroke="#444444" stroke-width="0.3" stroke-linejoin="round" paint-order="stroke">)</text><text x="423.38" y="484.05" font-size="24.65" font-weight="700" fill="#575757" textLength="26.85" lengthAdjust="spacingAndGlyphs">50</text><text x="451.95" y="482.77" font-size="22.19" font-weight="700" fill="#575757" textLength="21.58" lengthAdjust="spacingAndGlyphs" stroke="#575757" stroke-width="0.5" stroke-linejoin="round" paint-order="stroke">代</text><text x="288.80" y="501.82" font-size="16.73" font-weight="400" fill="#5b5b5b" textLength="118.34" lengthAdjust="spacingAndGlyphs" stroke="#5b5b5b" stroke-width="0.6" stroke-linejoin="round" paint-order="stroke">まったく利用</text><text x="289.05" y="524.44" font-size="15.33" font-weight="400" fill="#5b5b5b" textLength="98.55" lengthAdjust="spacingAndGlyphs" stroke="#5b5b5b" stroke-width="0.6" stroke-linejoin="round" paint-order="stroke">したくない</text><g fill="none" stroke="#5b5b5b" stroke-linejoin="miter" stroke-miterlimit="3" stroke-linecap="butt"><g transform="translate(315.20,534.20) scale(0.1834,0.2030)"><path d="M10,27 A21,20.5 0 0 1 52,27 A21,20.5 0 0 1 10,27 Z" stroke-width="15.96"/><path d="M6.5,70 A24.5,23.5 0 0 1 55.5,70 A24.5,23.5 0 0 1 6.5,70 Z" stroke-width="15.96"/></g><g transform="translate(330.65,534.20) scale(0.1776,0.2030)"><rect x="0" y="84" width="16" height="16" fill="#5b5b5b" stroke-width="2.46"/></g><g transform="translate(337.57,534.20) scale(0.1834,0.2030)"><path d="M4,6.5 L55.5,6.5 L21,100" stroke-width="15.96"/></g><g transform="translate(353.02,534.20) scale(0.1903,0.2030)"><path d="M60,3 L5,97" stroke-width="15.96"/><path d="M4.5,19 A7.5,14.5 0 0 1 19.5,19 A7.5,14.5 0 0 1 4.5,19 Z" stroke-width="11.46"/><path d="M44.5,81 A7.5,14.5 0 0 1 59.5,81 A7.5,14.5 0 0 1 44.5,81 Z" stroke-width="11.46"/></g></g><text x="520.04" y="513.17" font-size="19.48" font-weight="400" fill="#F08A5F" textLength="92.79" lengthAdjust="spacingAndGlyphs" stroke="#F08A5F" stroke-width="0.7" stroke-linejoin="round" paint-order="stroke">ぜひ利用</text><text x="519.40" y="540.31" font-size="21.36" font-weight="400" fill="#F08A5F" textLength="115.94" lengthAdjust="spacingAndGlyphs" stroke="#F08A5F" stroke-width="0.7" stroke-linejoin="round" paint-order="stroke">してみたい</text><g fill="none" stroke="#EF8A5F" stroke-linejoin="miter" stroke-miterlimit="3" stroke-linecap="butt"><g transform="translate(550.20,553.40) scale(0.2003,0.2270)"><path d="M5,25 L27.5,6.5 L27.5,100" stroke-width="15.70"/></g><g transform="translate(561.05,553.40) scale(0.2050,0.2270)"><path d="M6.8,29 A24.5,24 0 0 1 55.5,30.5 C55.5,40 51.5,47 46,54 L8,93.5 L58,93.5" stroke-width="15.70"/></g><g transform="translate(577.81,553.40) scale(0.1986,0.2270)"><rect x="0" y="84" width="16" height="16" fill="#EF8A5F" stroke-width="2.20"/></g><g transform="translate(585.03,553.40) scale(0.2003,0.2270)"><path d="M5,25 L27.5,6.5 L27.5,100" stroke-width="15.70"/></g><g transform="translate(595.88,553.40) scale(0.2128,0.2270)"><path d="M60,3 L5,97" stroke-width="15.70"/><path d="M4.5,19 A7.5,14.5 0 0 1 19.5,19 A7.5,14.5 0 0 1 4.5,19 Z" stroke-width="11.20"/><path d="M44.5,81 A7.5,14.5 0 0 1 59.5,81 A7.5,14.5 0 0 1 44.5,81 Z" stroke-width="11.20"/></g></g><text x="325.85" y="625.75" font-size="16.40" font-weight="400" fill="#5b5b5b" textLength="97.06" lengthAdjust="spacingAndGlyphs" stroke="#5b5b5b" stroke-width="0.6" stroke-linejoin="round" paint-order="stroke">あまり利用</text><text x="323.96" y="649.13" font-size="16.52" font-weight="400" fill="#5b5b5b" textLength="98.18" lengthAdjust="spacingAndGlyphs" stroke="#5b5b5b" stroke-width="0.6" stroke-linejoin="round" paint-order="stroke">したくない</text><g fill="none" stroke="#5b5b5b" stroke-linejoin="miter" stroke-miterlimit="3" stroke-linecap="butt"><g transform="translate(357.50,660.30) scale(0.1689,0.1870)"><path d="M7.5,24 A22.5,20.8 0 0 1 52.5,27.3 A22.5,20.8 0 0 1 30,48.1 L26,48.1" stroke-width="16.17"/><path d="M30,48.1 A24.5,22.7 0 0 1 55.5,70.8 A24.5,22.7 0 0 1 31,93.5 A24.5,22.7 0 0 1 6.5,76" stroke-width="16.17"/></g><g transform="translate(372.87,660.30) scale(0.1810,0.1870)"><path d="M46,6.5 L6.5,70 L58,70" stroke-width="16.17"/><path d="M45,40 L45,100" stroke-width="16.17"/></g><g transform="translate(388.99,660.30) scale(0.1636,0.1870)"><rect x="0" y="84" width="16" height="16" fill="#5b5b5b" stroke-width="2.67"/></g><g transform="translate(396.51,660.30) scale(0.1689,0.1870)"><path d="M6.5,31 A24.5,24.5 0 0 1 55.5,31 L55.5,69 A24.5,24.5 0 0 1 6.5,69 Z" stroke-width="16.17"/></g><g transform="translate(411.88,660.30) scale(0.1753,0.1870)"><path d="M60,3 L5,97" stroke-width="16.17"/><path d="M4.5,19 A7.5,14.5 0 0 1 19.5,19 A7.5,14.5 0 0 1 4.5,19 Z" stroke-width="11.67"/><path d="M44.5,81 A7.5,14.5 0 0 1 59.5,81 A7.5,14.5 0 0 1 44.5,81 Z" stroke-width="11.67"/></g></g><text x="455.90" y="655.76" font-size="20.89" font-weight="700" fill="#E86331" textLength="114.78" lengthAdjust="spacingAndGlyphs" stroke="#E86331" stroke-width="3.5" stroke-linejoin="round">試しに利用</text><text x="455.90" y="655.76" font-size="20.89" font-weight="700" fill="#ffffff" textLength="114.78" lengthAdjust="spacingAndGlyphs" stroke="#ffffff" stroke-width="0.5" stroke-linejoin="round">試しに利用</text><text x="454.86" y="682.79" font-size="20.66" font-weight="700" fill="#E86331" textLength="115.88" lengthAdjust="spacingAndGlyphs" stroke="#E86331" stroke-width="3.5" stroke-linejoin="round">してみたい</text><text x="454.86" y="682.79" font-size="20.66" font-weight="700" fill="#ffffff" textLength="115.88" lengthAdjust="spacingAndGlyphs" stroke="#ffffff" stroke-width="0.5" stroke-linejoin="round">してみたい</text><g fill="none" stroke="#E86331" stroke-linejoin="miter" stroke-miterlimit="3" stroke-linecap="butt"><g transform="translate(460.60,697.80) scale(0.2265,0.2340)"><path d="M46,6.5 L6.5,70 L58,70" stroke-width="26.32"/><path d="M45,40 L45,100" stroke-width="26.32"/></g><g transform="translate(477.82,697.80) scale(0.2114,0.2340)"><path d="M54,6.5 L11,6.5 L9,49" stroke-width="26.32"/><path d="M8.5,48 C13,44.5 21,42.5 31,42.5 A24.5,25.5 0 0 1 55.5,68 A24.5,25.5 0 0 1 31,93.5 C19,93.5 10,87.5 6.5,79" stroke-width="26.32"/></g><g transform="translate(494.11,697.80) scale(0.2048,0.2340)"><rect x="0" y="84" width="16" height="16" fill="#E86331" stroke-width="12.82"/></g><g transform="translate(500.57,697.80) scale(0.2114,0.2340)"><path d="M6.8,29 A24.5,24 0 0 1 55.5,30.5 C55.5,40 51.5,47 46,54 L8,93.5 L58,93.5" stroke-width="26.32"/></g><g transform="translate(516.86,697.80) scale(0.2194,0.2340)"><path d="M60,3 L5,97" stroke-width="26.32"/><path d="M4.5,19 A7.5,14.5 0 0 1 19.5,19 A7.5,14.5 0 0 1 4.5,19 Z" stroke-width="21.82"/><path d="M44.5,81 A7.5,14.5 0 0 1 59.5,81 A7.5,14.5 0 0 1 44.5,81 Z" stroke-width="21.82"/></g></g><g fill="none" stroke="#ffffff" stroke-linejoin="miter" stroke-miterlimit="3" stroke-linecap="butt"><g transform="translate(460.60,697.80) scale(0.2265,0.2340)"><path d="M46,6.5 L6.5,70 L58,70" stroke-width="15.64"/><path d="M45,40 L45,100" stroke-width="15.64"/></g><g transform="translate(477.82,697.80) scale(0.2114,0.2340)"><path d="M54,6.5 L11,6.5 L9,49" stroke-width="15.64"/><path d="M8.5,48 C13,44.5 21,42.5 31,42.5 A24.5,25.5 0 0 1 55.5,68 A24.5,25.5 0 0 1 31,93.5 C19,93.5 10,87.5 6.5,79" stroke-width="15.64"/></g><g transform="translate(494.11,697.80) scale(0.2048,0.2340)"><rect x="0" y="84" width="16" height="16" fill="#ffffff" stroke-width="2.14"/></g><g transform="translate(500.57,697.80) scale(0.2114,0.2340)"><path d="M6.8,29 A24.5,24 0 0 1 55.5,30.5 C55.5,40 51.5,47 46,54 L8,93.5 L58,93.5" stroke-width="15.64"/></g><g transform="translate(516.86,697.80) scale(0.2194,0.2340)"><path d="M60,3 L5,97" stroke-width="15.64"/><path d="M4.5,19 A7.5,14.5 0 0 1 19.5,19 A7.5,14.5 0 0 1 4.5,19 Z" stroke-width="11.14"/><path d="M44.5,81 A7.5,14.5 0 0 1 59.5,81 A7.5,14.5 0 0 1 44.5,81 Z" stroke-width="11.14"/></g></g><text x="534.46" y="756.17" font-size="15.85" font-weight="400" fill="#444444" textLength="5.77" lengthAdjust="spacingAndGlyphs" stroke="#444444" stroke-width="0.3" stroke-linejoin="round" paint-order="stroke">(</text><text x="540.80" y="757.94" font-size="16.06" font-weight="400" fill="#444444" textLength="48.13" lengthAdjust="spacingAndGlyphs" stroke="#444444" stroke-width="0.6" stroke-linejoin="round" paint-order="stroke">n=206</text><text x="589.64" y="756.78" font-size="13.67" font-weight="700" fill="#444444" textLength="14.50" lengthAdjust="spacingAndGlyphs" stroke="#444444" stroke-width="0.3" stroke-linejoin="round" paint-order="stroke">人</text><text x="605.85" y="756.17" font-size="15.85" font-weight="400" fill="#444444" textLength="4.87" lengthAdjust="spacingAndGlyphs" stroke="#444444" stroke-width="0.3" stroke-linejoin="round" paint-order="stroke">)</text><text x="832.13" y="480.85" font-size="24.65" font-weight="700" fill="#575757" textLength="27.11" lengthAdjust="spacingAndGlyphs">60</text><text x="860.95" y="479.57" font-size="22.19" font-weight="700" fill="#575757" textLength="21.58" lengthAdjust="spacingAndGlyphs" stroke="#575757" stroke-width="0.5" stroke-linejoin="round" paint-order="stroke">代</text><text x="738.78" y="527.45" font-size="15.92" font-weight="400" fill="#5b5b5b" textLength="119.18" lengthAdjust="spacingAndGlyphs" stroke="#5b5b5b" stroke-width="0.6" stroke-linejoin="round" paint-order="stroke">まったく利用</text><text x="739.05" y="550.10" font-size="14.46" font-weight="400" fill="#5b5b5b" textLength="98.55" lengthAdjust="spacingAndGlyphs" stroke="#5b5b5b" stroke-width="0.6" stroke-linejoin="round" paint-order="stroke">したくない</text><g fill="none" stroke="#5b5b5b" stroke-linejoin="miter" stroke-miterlimit="3" stroke-linecap="butt"><g transform="translate(799.60,558.00) scale(0.1835,0.2080)"><path d="M5,25 L27.5,6.5 L27.5,100" stroke-width="15.90"/></g><g transform="translate(809.11,558.00) scale(0.1879,0.2080)"><path d="M6.8,29 A24.5,24 0 0 1 55.5,30.5 C55.5,40 51.5,47 46,54 L8,93.5 L58,93.5" stroke-width="15.90"/></g><g transform="translate(824.02,558.00) scale(0.1820,0.2080)"><rect x="0" y="84" width="16" height="16" fill="#5b5b5b" stroke-width="2.40"/></g><g transform="translate(830.20,558.00) scale(0.1879,0.2080)"><path d="M6.5,31 A24.5,24.5 0 0 1 55.5,31 L55.5,69 A24.5,24.5 0 0 1 6.5,69 Z" stroke-width="15.90"/></g><g transform="translate(845.12,558.00) scale(0.1950,0.2080)"><path d="M60,3 L5,97" stroke-width="15.90"/><path d="M4.5,19 A7.5,14.5 0 0 1 19.5,19 A7.5,14.5 0 0 1 4.5,19 Z" stroke-width="11.40"/><path d="M44.5,81 A7.5,14.5 0 0 1 59.5,81 A7.5,14.5 0 0 1 44.5,81 Z" stroke-width="11.40"/></g></g><text x="914.04" y="509.54" font-size="19.69" font-weight="400" fill="#F08A5F" textLength="92.22" lengthAdjust="spacingAndGlyphs" stroke="#F08A5F" stroke-width="0.7" stroke-linejoin="round" paint-order="stroke">ぜひ利用</text><text x="913.01" y="536.10" font-size="20.68" font-weight="400" fill="#F08A5F" textLength="115.57" lengthAdjust="spacingAndGlyphs" stroke="#F08A5F" stroke-width="0.7" stroke-linejoin="round" paint-order="stroke">してみたい</text><g fill="none" stroke="#EF8A5F" stroke-linejoin="miter" stroke-miterlimit="3" stroke-linecap="butt"><g transform="translate(960.90,551.00) scale(0.2032,0.2250)"><path d="M6.5,69 A24.5,24.5 0 0 1 55.5,69 A24.5,24.5 0 0 1 6.5,69 Z" stroke-width="15.72"/><path d="M10.5,57 L40,0" stroke-width="15.72"/></g><g transform="translate(977.12,551.00) scale(0.1969,0.2250)"><rect x="0" y="84" width="16" height="16" fill="#EF8A5F" stroke-width="2.22"/></g><g transform="translate(983.88,551.00) scale(0.2032,0.2250)"><path d="M4,6.5 L55.5,6.5 L21,100" stroke-width="15.72"/></g><g transform="translate(1000.10,551.00) scale(0.2109,0.2250)"><path d="M60,3 L5,97" stroke-width="15.72"/><path d="M4.5,19 A7.5,14.5 0 0 1 19.5,19 A7.5,14.5 0 0 1 4.5,19 Z" stroke-width="11.22"/><path d="M44.5,81 A7.5,14.5 0 0 1 59.5,81 A7.5,14.5 0 0 1 44.5,81 Z" stroke-width="11.22"/></g></g><text x="740.10" y="638.10" font-size="17.50" font-weight="400" fill="#5b5b5b" textLength="97.01" lengthAdjust="spacingAndGlyphs" stroke="#5b5b5b" stroke-width="0.6" stroke-linejoin="round" paint-order="stroke">あまり利用</text><text x="738.27" y="662.07" font-size="16.30" font-weight="400" fill="#5b5b5b" textLength="98.08" lengthAdjust="spacingAndGlyphs" stroke="#5b5b5b" stroke-width="0.6" stroke-linejoin="round" paint-order="stroke">したくない</text><g fill="none" stroke="#5b5b5b" stroke-linejoin="miter" stroke-miterlimit="3" stroke-linecap="butt"><g transform="translate(768.75,671.25) scale(0.1694,0.1875)"><path d="M7.5,24 A22.5,20.8 0 0 1 52.5,27.3 A22.5,20.8 0 0 1 30,48.1 L26,48.1" stroke-width="16.17"/><path d="M30,48.1 A24.5,22.7 0 0 1 55.5,70.8 A24.5,22.7 0 0 1 31,93.5 A24.5,22.7 0 0 1 6.5,76" stroke-width="16.17"/></g><g transform="translate(783.84,671.25) scale(0.1694,0.1875)"><path d="M6.8,29 A24.5,24 0 0 1 55.5,30.5 C55.5,40 51.5,47 46,54 L8,93.5 L58,93.5" stroke-width="16.17"/></g><g transform="translate(798.94,671.25) scale(0.1641,0.1875)"><rect x="0" y="84" width="16" height="16" fill="#5b5b5b" stroke-width="2.67"/></g><g transform="translate(806.16,671.25) scale(0.1694,0.1875)"><path d="M54,6.5 L11,6.5 L9,49" stroke-width="16.17"/><path d="M8.5,48 C13,44.5 21,42.5 31,42.5 A24.5,25.5 0 0 1 55.5,68 A24.5,25.5 0 0 1 31,93.5 C19,93.5 10,87.5 6.5,79" stroke-width="16.17"/></g><g transform="translate(821.25,671.25) scale(0.1758,0.1875)"><path d="M60,3 L5,97" stroke-width="16.17"/><path d="M4.5,19 A7.5,14.5 0 0 1 19.5,19 A7.5,14.5 0 0 1 4.5,19 Z" stroke-width="11.67"/><path d="M44.5,81 A7.5,14.5 0 0 1 59.5,81 A7.5,14.5 0 0 1 44.5,81 Z" stroke-width="11.67"/></g></g><text x="873.75" y="643.74" font-size="23.51" font-weight="700" fill="#E86331" textLength="124.98" lengthAdjust="spacingAndGlyphs" stroke="#E86331" stroke-width="3.5" stroke-linejoin="round">試しに利用</text><text x="873.75" y="643.74" font-size="23.51" font-weight="700" fill="#ffffff" textLength="124.98" lengthAdjust="spacingAndGlyphs" stroke="#ffffff" stroke-width="0.5" stroke-linejoin="round">試しに利用</text><text x="871.30" y="672.73" font-size="21.98" font-weight="700" fill="#E86331" textLength="126.19" lengthAdjust="spacingAndGlyphs" stroke="#E86331" stroke-width="3.5" stroke-linejoin="round">してみたい</text><text x="871.30" y="672.73" font-size="21.98" font-weight="700" fill="#ffffff" textLength="126.19" lengthAdjust="spacingAndGlyphs" stroke="#ffffff" stroke-width="0.5" stroke-linejoin="round">してみたい</text><g fill="none" stroke="#E86331" stroke-linejoin="miter" stroke-miterlimit="3" stroke-linecap="butt"><g transform="translate(875.00,691.25) scale(0.2056,0.2125)"><path d="M46,6.5 L6.5,70 L58,70" stroke-width="27.62"/><path d="M45,40 L45,100" stroke-width="27.62"/></g><g transform="translate(892.18,691.25) scale(0.1919,0.2125)"><path d="M10,27 A21,20.5 0 0 1 52,27 A21,20.5 0 0 1 10,27 Z" stroke-width="27.62"/><path d="M6.5,70 A24.5,23.5 0 0 1 55.5,70 A24.5,23.5 0 0 1 6.5,70 Z" stroke-width="27.62"/></g><g transform="translate(908.51,691.25) scale(0.1859,0.2125)"><rect x="0" y="84" width="16" height="16" fill="#E86331" stroke-width="14.12"/></g><g transform="translate(915.92,691.25) scale(0.1919,0.2125)"><path d="M10,27 A21,20.5 0 0 1 52,27 A21,20.5 0 0 1 10,27 Z" stroke-width="27.62"/><path d="M6.5,70 A24.5,23.5 0 0 1 55.5,70 A24.5,23.5 0 0 1 6.5,70 Z" stroke-width="27.62"/></g><g transform="translate(932.25,691.25) scale(0.1992,0.2125)"><path d="M60,3 L5,97" stroke-width="27.62"/><path d="M4.5,19 A7.5,14.5 0 0 1 19.5,19 A7.5,14.5 0 0 1 4.5,19 Z" stroke-width="23.12"/><path d="M44.5,81 A7.5,14.5 0 0 1 59.5,81 A7.5,14.5 0 0 1 44.5,81 Z" stroke-width="23.12"/></g></g><g fill="none" stroke="#ffffff" stroke-linejoin="miter" stroke-miterlimit="3" stroke-linecap="butt"><g transform="translate(875.00,691.25) scale(0.2056,0.2125)"><path d="M46,6.5 L6.5,70 L58,70" stroke-width="15.85"/><path d="M45,40 L45,100" stroke-width="15.85"/></g><g transform="translate(892.18,691.25) scale(0.1919,0.2125)"><path d="M10,27 A21,20.5 0 0 1 52,27 A21,20.5 0 0 1 10,27 Z" stroke-width="15.85"/><path d="M6.5,70 A24.5,23.5 0 0 1 55.5,70 A24.5,23.5 0 0 1 6.5,70 Z" stroke-width="15.85"/></g><g transform="translate(908.51,691.25) scale(0.1859,0.2125)"><rect x="0" y="84" width="16" height="16" fill="#ffffff" stroke-width="2.35"/></g><g transform="translate(915.92,691.25) scale(0.1919,0.2125)"><path d="M10,27 A21,20.5 0 0 1 52,27 A21,20.5 0 0 1 10,27 Z" stroke-width="15.85"/><path d="M6.5,70 A24.5,23.5 0 0 1 55.5,70 A24.5,23.5 0 0 1 6.5,70 Z" stroke-width="15.85"/></g><g transform="translate(932.25,691.25) scale(0.1992,0.2125)"><path d="M60,3 L5,97" stroke-width="15.85"/><path d="M4.5,19 A7.5,14.5 0 0 1 19.5,19 A7.5,14.5 0 0 1 4.5,19 Z" stroke-width="11.35"/><path d="M44.5,81 A7.5,14.5 0 0 1 59.5,81 A7.5,14.5 0 0 1 44.5,81 Z" stroke-width="11.35"/></g></g><text x="945.71" y="758.57" font-size="15.85" font-weight="400" fill="#444444" textLength="5.77" lengthAdjust="spacingAndGlyphs" stroke="#444444" stroke-width="0.3" stroke-linejoin="round" paint-order="stroke">(</text><text x="952.05" y="760.34" font-size="16.06" font-weight="400" fill="#444444" textLength="48.13" lengthAdjust="spacingAndGlyphs" stroke="#444444" stroke-width="0.6" stroke-linejoin="round" paint-order="stroke">n=209</text><text x="1000.89" y="759.18" font-size="13.67" font-weight="700" fill="#444444" textLength="14.50" lengthAdjust="spacingAndGlyphs" stroke="#444444" stroke-width="0.3" stroke-linejoin="round" paint-order="stroke">人</text><text x="1017.10" y="758.57" font-size="15.85" font-weight="400" fill="#444444" textLength="4.87" lengthAdjust="spacingAndGlyphs" stroke="#444444" stroke-width="0.3" stroke-linejoin="round" paint-order="stroke">)</text><text x="27.01" y="789.33" font-size="13.75" font-weight="700" fill="#3d3d3d" textLength="432.61" lengthAdjust="spacingAndGlyphs">《 調査概要：「車の自動運転に対する意識」に関する調査 》</text><text x="487.34" y="789.33" font-size="13.75" font-weight="700" fill="#3d3d3d" textLength="350.41" lengthAdjust="spacingAndGlyphs">調査元：NSSスマートコンサルティング株式会社</text><rect x="476.25" y="781.38" width="6" height="6" fill="#3d3d3d"/><text x="44.59" y="814.95" font-size="13.90" font-weight="700" fill="#3d3d3d" textLength="418.07" lengthAdjust="spacingAndGlyphs">調査期間：2025年8月20日（水）～2025年8月21日（木）</text><rect x="32.25" y="806.95" width="6" height="6" fill="#3d3d3d"/><text x="488.59" y="814.95" font-size="13.90" font-weight="700" fill="#3d3d3d" textLength="223.04" lengthAdjust="spacingAndGlyphs">調査方法：インターネット調査</text><rect x="477.50" y="806.95" width="6" height="6" fill="#3d3d3d"/><text x="747.45" y="814.95" font-size="13.90" font-weight="700" fill="#3d3d3d" textLength="252.42" lengthAdjust="spacingAndGlyphs">モニター提供元：PRIZMAリサーチ</text><rect x="737.50" y="806.95" width="6" height="6" fill="#3d3d3d"/><text x="44.59" y="839.97" font-size="13.80" font-weight="700" fill="#3d3d3d" textLength="595.60" lengthAdjust="spacingAndGlyphs">調査対象：調査回答時に車を現在運転している20～60代の男女と回答したモニター</text><rect x="32.25" y="832.00" width="6" height="6" fill="#3d3d3d"/><text x="673.24" y="839.97" font-size="13.80" font-weight="700" fill="#3d3d3d" textLength="137.97" lengthAdjust="spacingAndGlyphs">調査人数：1,033人</text><rect x="662.50" y="832.00" width="6" height="6" fill="#3d3d3d"/><path fill="#3AAEE6" stroke="#3AAEE6" stroke-width="0.4" d="M1059.5,784.9 L1082.7,797.3 L1074.7,802 L1059.5,794.4 Z"/>
<path fill="#2FA2E7" stroke="#2FA2E7" stroke-width="0.4" d="M1082.7,797.3 L1082.4,821.6 L1075.5,816.9 L1074.7,802 Z"/>
<path fill="#5CC4E0" stroke="#5CC4E0" stroke-width="0.4" d="M1082.4,821.6 L1060.5,833.3 L1060.5,824.5 L1075.5,816.9 Z"/>
<path fill="#52BDE0" stroke="#52BDE0" stroke-width="0.4" d="M1060.5,833.3 L1038.4,821.6 L1045.6,816.5 L1060.5,824.5 Z"/>
<path fill="#2093E1" stroke="#2093E1" stroke-width="0.4" d="M1038.4,821.6 L1038.4,797.3 L1045.6,801.6 L1045.6,816.5 Z"/>
<path fill="#33A9E5" stroke="#33A9E5" stroke-width="0.4" d="M1038.4,797.3 L1059.5,784.9 L1059.5,794.4 L1045.6,801.6 Z"/>
<rect x="1095.7" y="788.4" width="7.4" height="37.3" fill="#1a1a1a"/>
<text x="1105.47" y="825.24" font-size="58.21" font-weight="700" fill="#1a1a1a" textLength="33.74" lengthAdjust="spacingAndGlyphs" font-family="Liberation Serif, serif">S</text>
<path fill-rule="evenodd" fill="#1a1a1a" d="M1156.9,787.4 A16.15,19.5 0 1 1 1156.89,787.4 Z M1156.9,790.8 A8.4,16.1 0 1 0 1156.91,790.8 Z"/>
<path fill="#1a1a1a" d="M1177.6,791.7 L1210.5,791.7 L1212.2,794.8 L1177.6,794.6 Z"/>
<path fill="#1a1a1a" d="M1208.4,792 L1212.4,795.2 C1210.8,810 1203,822.5 1180.3,827.6 L1177.9,823.6 C1198,818 1206,806 1208.4,792 Z"/>
<circle cx="1215" cy="788.9" r="3.6" fill="none" stroke="#1a1a1a" stroke-width="1.6"/>
<path fill-rule="evenodd" fill="#1a1a1a" d="M1223,791.4 L1256.7,791.4 L1256.7,825.1 L1250.4,825.1 L1250.4,823 L1229,823 L1229,825.1 L1223,825.1 Z M1229,794.2 L1250.4,794.2 L1250.4,820.5 L1229,820.5 Z"/>

</svg></body></html>
